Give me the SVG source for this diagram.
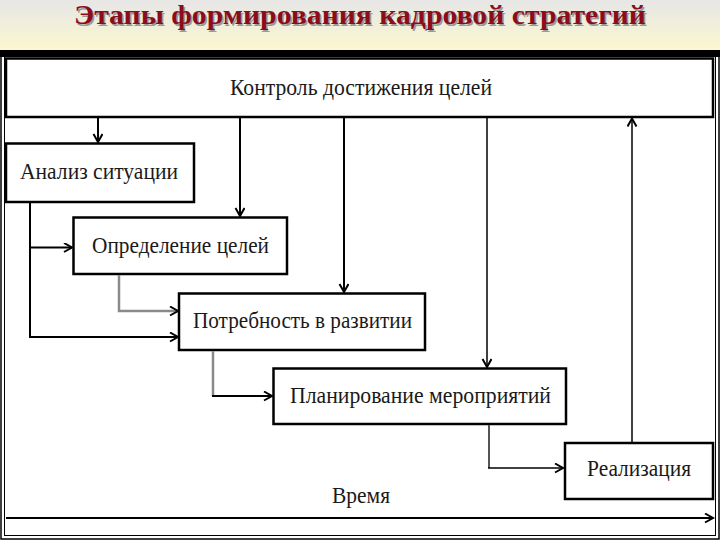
<svg xmlns="http://www.w3.org/2000/svg" width="720" height="540" viewBox="0 0 720 540">
  <defs>
    <linearGradient id="hdr" x1="0" y1="0" x2="0" y2="1">
      <stop offset="0" stop-color="#e6e6e6"/>
      <stop offset="1" stop-color="#fcf7cf"/>
    </linearGradient>
    <marker id="arr" markerUnits="userSpaceOnUse" markerWidth="12" markerHeight="12" refX="9" refY="5" orient="auto" viewBox="0 0 12 12">
      <path d="M1,0.5 L9,5 L1,9.5" fill="none" stroke="#000" stroke-width="2"/>
    </marker>
  </defs>
  <style>
    .box { fill: #fff; stroke: #000; stroke-width: 2.5; }
    .con { fill: none; stroke: #000; stroke-width: 2; }
    .thin { fill: none; stroke: #000; stroke-width: 1.5; }
    .gray { fill: none; stroke: #8a8a8a; stroke-width: 2.5; }
    .dgray { fill: none; stroke: #555; stroke-width: 2; }
  </style>

  <rect x="0" y="0" width="720" height="540" fill="#fff"/>
  <rect x="0" y="0" width="720" height="50" fill="url(#hdr)"/>
  <g id="title" font-family="Liberation Serif, serif" font-size="28" font-weight="bold" text-anchor="middle">
    <text x="361.5" y="25.5" fill="#9a9a9a" textLength="572" lengthAdjust="spacingAndGlyphs">Этапы формирования кадровой стратегий</text>
    <text x="360" y="24" fill="#8b0d1c" textLength="572" lengthAdjust="spacingAndGlyphs">Этапы формирования кадровой стратегий</text>
  </g>

  <rect x="0" y="50" width="720" height="7" fill="#000"/>
  <rect x="1" y="52" width="718" height="487" fill="none" stroke="#000" stroke-width="1.5"/>
  <rect x="4.5" y="56" width="711" height="479.5" fill="none" stroke="#000" stroke-width="1"/>

  <g font-family="Liberation Serif, serif" font-size="24" fill="#1a1a1a" text-anchor="middle">
    <g id="control">
      <rect class="box" x="6" y="58.5" width="707" height="58.5"/>
      <text x="361" y="95" textLength="262" lengthAdjust="spacingAndGlyphs">Контроль достижения целей</text>
    </g>
    <g id="analysis">
      <rect class="box" x="6" y="143.5" width="188" height="58.5"/>
      <text x="99" y="179" textLength="158" lengthAdjust="spacingAndGlyphs">Анализ ситуации</text>
    </g>
    <g id="goals">
      <rect class="box" x="73.5" y="217.5" width="213.5" height="56.5"/>
      <text x="180.5" y="253" textLength="177" lengthAdjust="spacingAndGlyphs">Определение целей</text>
    </g>
    <g id="needs">
      <rect class="box" x="179" y="293.5" width="246" height="56.5"/>
      <text x="302.5" y="328" textLength="219" lengthAdjust="spacingAndGlyphs">Потребность в развитии</text>
    </g>
    <g id="planning">
      <rect class="box" x="273.5" y="368.5" width="292.5" height="55.5"/>
      <text x="420.5" y="403" textLength="261" lengthAdjust="spacingAndGlyphs">Планирование мероприятий</text>
    </g>
    <g id="realization">
      <rect class="box" x="565" y="443" width="148" height="56"/>
      <text x="639" y="476" textLength="104" lengthAdjust="spacingAndGlyphs">Реализация</text>
    </g>
    <g id="time">
      <text x="361" y="503" textLength="58" lengthAdjust="spacingAndGlyphs">Время</text>
    </g>
  </g>

  <g id="connectors">
    <path class="con" d="M98,118 V142" marker-end="url(#arr)"/>
    <path class="con" d="M240,118 V216" marker-end="url(#arr)"/>
    <path class="con" d="M344,118 V292" marker-end="url(#arr)"/>
    <path class="thin" d="M487,118 V367" marker-end="url(#arr)"/>
    <path class="thin" d="M632,442 V118.5" marker-end="url(#arr)"/>
    <path class="con" d="M30,203 V337 H178" marker-end="url(#arr)"/>
    <path class="con" d="M30,247.5 H72" marker-end="url(#arr)"/>
    <path class="gray" d="M119,275 V311 H178" marker-end="url(#arr)"/>
    <path class="gray" d="M213,351 V396"/>
    <path class="con" d="M212,396 H272" marker-end="url(#arr)"/>
    <path class="dgray" d="M489,425 V468"/>
    <path class="thin" d="M488,468 H563" marker-end="url(#arr)"/>
    <path class="con" d="M6,518 H713" stroke-width="2.5" marker-end="url(#arr)"/>
  </g>
</svg>
